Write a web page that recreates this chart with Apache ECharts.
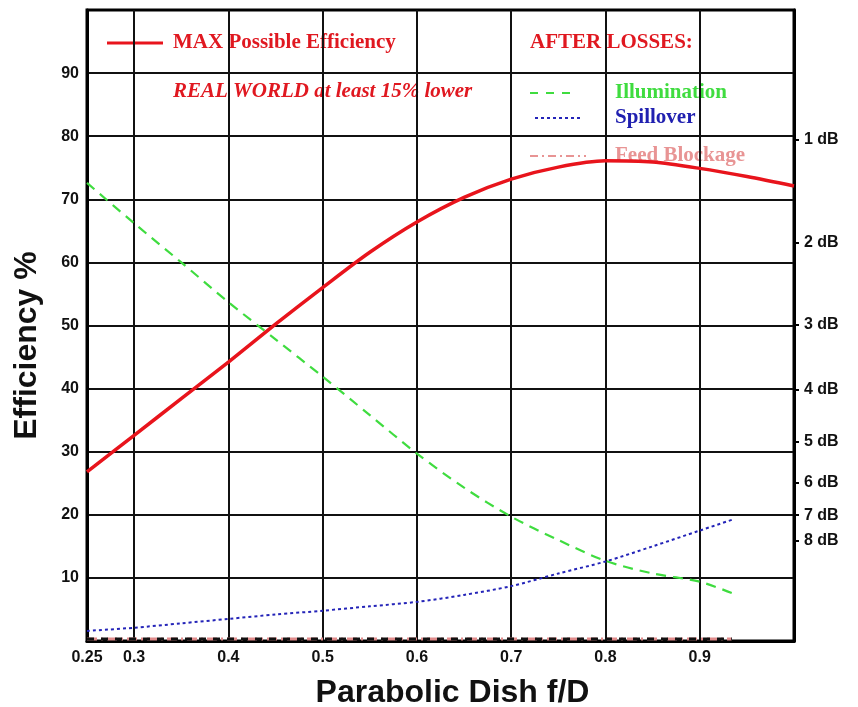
<!DOCTYPE html>
<html>
<head>
<meta charset="utf-8">
<script src="https://cdn.jsdelivr.net/npm/echarts@6/dist/echarts.min.js"></script>
<style>
html,body{margin:0;padding:0;background:#fff}
#main{width:858px;height:707px}
</style>
</head>
<body>
<div id="main"></div>
<script>
// f/D points for the max-efficiency curve
var fdMax = [0.25,0.3,0.35,0.4,0.45,0.5,0.55,0.6,0.65,0.7,0.75,0.8,0.85,0.9,0.95,1.0];
var maxEff = [26.8,32.6,38.4,44.2,50.2,56.0,61.6,66.4,70.3,73.2,75.1,76.1,75.9,74.9,73.6,72.1];

// f/D points for the loss curves
var fdLoss = [0.25,0.3,0.35,0.4,0.45,0.5,0.55,0.6,0.65,0.7,0.75,0.8,0.85,0.9,0.934];
var illumination = [72.6,66.2,60.0,53.7,47.8,41.9,35.8,29.7,24.3,19.7,16.0,12.7,10.7,9.4,7.6];
var spillover = [1.6,2.1,2.8,3.5,4.2,4.8,5.5,6.2,7.3,8.7,10.7,12.6,15.0,17.5,19.2];
var feedBlockage = [0.3,0.3,0.3,0.3,0.3,0.3,0.3,0.3,0.3,0.3,0.3,0.3,0.3,0.3,0.3];
var baseLine = [0.3,0.3,0.3,0.3,0.3,0.3,0.3,0.3,0.3,0.3,0.3,0.3,0.3,0.3,0.3];

// axis labels
var xLabels = [0.25,0.3,0.4,0.5,0.6,0.7,0.8,0.9];
var xGrid = [0.3,0.4,0.5,0.6,0.7,0.8,0.9];
var yLabels = [10,20,30,40,50,60,70,80,90];
var dbLabels = [1,2,3,4,5,6,7,8];

/*把x和y合成点*/
function pairs(xs, ys){
    var out = [];
    for(var i=0;i<xs.length;i++){
        out.push([xs[i], ys[i]]);
    }
    return out;
}

// dB loss -> efficiency % position on the right scale
var dbPos = dbLabels.map(function(d){ return 100*Math.pow(10,-d/10); });

var sans = '"Liberation Sans", Arial, sans-serif';
var serif = '"Liberation Serif", "Times New Roman", serif';

var myChart = echarts.init(document.getElementById('main'));
var option = {
    animation: false,
    backgroundColor: '#fff',
    grid: {
        left: 87, right: 64, top: 10, bottom: 66,
        outerBoundsMode: 'none',
        containLabel: false,
        show: true, borderColor: '#000', borderWidth: 3
    },
    xAxis: {
        type: 'value',
        min: 0.25, max: 1.0,
        name: 'Parabolic Dish f/D',
        nameLocation: 'middle',
        nameGap: 36,
        nameTextStyle: {fontFamily: sans, fontWeight: 'bold', fontSize: 32, color: '#111', padding: [0,0,0,24]},
        axisLine: {lineStyle: {color: '#000', width: 3}},
        axisTick: {show: false, customValues: xGrid},
        axisLabel: {
            customValues: xLabels,
            margin: 9,
            fontFamily: sans, fontWeight: 'bold', fontSize: 16, color: '#111'
        },
        splitLine: {show: true, lineStyle: {color: '#111', width: 2}}
    },
    yAxis: [
        {
            type: 'value',
            min: 0, max: 100,
            name: 'Efficiency %',
            nameLocation: 'middle',
            nameGap: 44,
            nameTextStyle: {fontFamily: sans, fontWeight: 'bold', fontSize: 32, color: '#111', padding: [0,40,0,0]},
            axisLine: {show: true, lineStyle: {color: '#000', width: 3}},
            axisTick: {show: false, customValues: yLabels},
            axisLabel: {
                customValues: yLabels,
                margin: 8,
                fontFamily: sans, fontWeight: 'bold', fontSize: 16, color: '#111'
            },
            splitLine: {show: true, lineStyle: {color: '#111', width: 2}}
        },
        {
            type: 'value',
            position: 'right',
            min: 0, max: 100,
            axisLine: {show: true, lineStyle: {color: '#000', width: 3}},
            axisTick: {show: true, inside: false, length: 5, customValues: dbPos, lineStyle: {color: '#000', width: 2}},
            axisLabel: {
                customValues: dbPos,
                margin: 10,
                fontFamily: sans, fontWeight: 'bold', fontSize: 16, color: '#111',
                formatter: function(v){
                    var best = 0;
                    for(var i=0;i<dbPos.length;i++){
                        if(Math.abs(dbPos[i]-v) < Math.abs(dbPos[best]-v)) best = i;
                    }
                    return dbLabels[best] + ' dB';
                }
            },
            splitLine: {show: false}
        }
    ],
    series: [
        {
            name: 'Feed Blockage',
            type: 'line',
            symbol: 'none',
            data: pairs(fdLoss, feedBlockage),
            lineStyle: {color: '#e08c8c', width: 3, type: [10,4,2,4]},
            z: 2
        },
        {
            name: 'base',
            type: 'line',
            symbol: 'none',
            data: pairs(fdLoss, baseLine),
            lineStyle: {color: '#111', width: 3, type: [7,7]},
            z: 3
        },
        {
            name: 'Spillover',
            type: 'line',
            symbol: 'none',
            smooth: 0.3,
            data: pairs(fdLoss, spillover),
            lineStyle: {color: '#2424b8', width: 2, type: [3,3]},
            z: 4
        },
        {
            name: 'Illumination',
            type: 'line',
            symbol: 'none',
            smooth: 0.3,
            data: pairs(fdLoss, illumination),
            lineStyle: {color: '#3fdc3f', width: 2.2, type: [10,7]},
            z: 4
        },
        {
            name: 'MAX Possible Efficiency',
            type: 'line',
            symbol: 'none',
            smooth: 0.3,
            data: pairs(fdMax, maxEff),
            lineStyle: {color: '#e8141c', width: 3.5},
            z: 5
        }
    ],
    graphic: [
        {type: 'line', shape: {x1: 107, y1: 43, x2: 163, y2: 43}, style: {stroke: '#e8141c', lineWidth: 3}},
        {type: 'text', x: 173, y: 43, style: {text: 'MAX Possible Efficiency', fill: '#e01820', font: 'bold 21px ' + serif, textVerticalAlign: 'middle'}},
        {type: 'text', x: 173, y: 92, style: {text: 'REAL WORLD at least 15% lower', fill: '#e01820', font: 'italic bold 21px ' + serif, textVerticalAlign: 'middle'}},
        {type: 'text', x: 530, y: 43, style: {text: 'AFTER LOSSES:', fill: '#e01820', font: 'bold 21px ' + serif, textVerticalAlign: 'middle'}},
        {type: 'line', shape: {x1: 530, y1: 93, x2: 578, y2: 93}, style: {stroke: '#3fdc3f', lineWidth: 2, lineDash: [8,8]}},
        {type: 'text', x: 615, y: 93, style: {text: 'Illumination', fill: '#3fdc3f', font: 'bold 21px ' + serif, textVerticalAlign: 'middle'}},
        {type: 'line', shape: {x1: 535, y1: 118, x2: 583, y2: 118}, style: {stroke: '#2424b8', lineWidth: 2, lineDash: [3,3]}},
        {type: 'text', x: 615, y: 118, style: {text: 'Spillover', fill: '#2020b0', font: 'bold 21px ' + serif, textVerticalAlign: 'middle'}},
        {type: 'line', shape: {x1: 530, y1: 156, x2: 586, y2: 156}, style: {stroke: '#e89494', lineWidth: 2, lineDash: [8,4,2,4]}},
        {type: 'text', x: 615, y: 156, style: {text: 'Feed Blockage', fill: '#e89494', font: 'bold 21px ' + serif, textVerticalAlign: 'middle'}}
    ]
};
myChart.setOption(option);
</script>
</body>
</html>
